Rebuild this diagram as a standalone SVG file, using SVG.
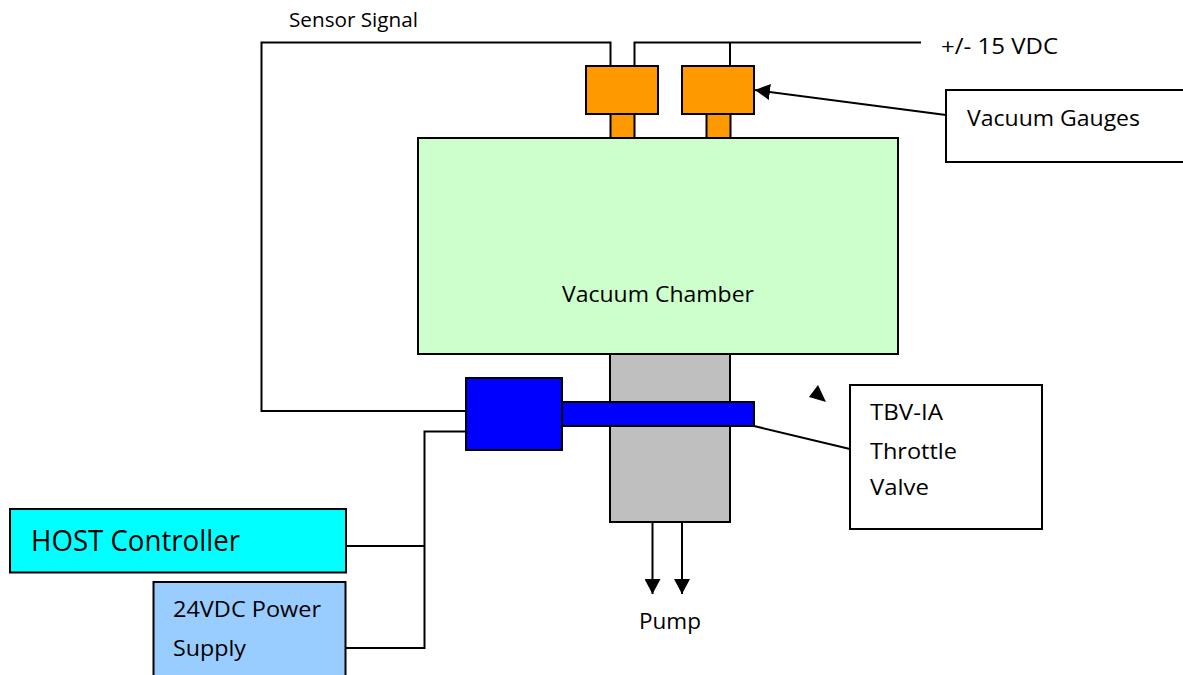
<svg xmlns="http://www.w3.org/2000/svg" width="1183" height="675" viewBox="0 0 1183 675">
<style>
.b{stroke:#000;stroke-width:2}
.w{fill:none;stroke:#000;stroke-width:2}
text{font-family:"Open Sans","Noto Sans","Liberation Sans",sans-serif;fill:#000;font-size:22.500px}
</style>
<defs>
<marker id="a" markerUnits="userSpaceOnUse" markerWidth="16" markerHeight="16" refX="15" refY="8" orient="auto"><path d="M0 0L15 8L0 16Z" fill="#000"/></marker>
</defs>
<rect width="1183" height="675" fill="#fff"/>
<g id="connectors">
<path class="w" d="M466 411H261.500V42.500H610.500V66"/>
<path class="w" d="M634.500 66V42.500H921"/>
<path class="w" d="M730 42.500V66"/>
<path class="w" d="M466 431.500H424.500V648H346"/>
<path class="w" d="M346 546H424.500"/>
<path class="w" d="M754 426L850 449"/>
<path class="w" d="M946 115L755 90" marker-end="url(#a)"/>
<path class="w" d="M652.500 522V594" marker-end="url(#a)"/>
<path class="w" d="M682 522V594" marker-end="url(#a)"/>
<path d="M809 397L818 385L826 402Z" fill="#000"/>
</g>
<g id="gauge-stem-1"><rect class="b" x="610.500" y="114" width="24" height="24" fill="#f90"/></g>
<g id="gauge-stem-2"><rect class="b" x="706.500" y="114" width="24" height="24" fill="#f90"/></g>
<g id="gauge-1"><rect class="b" x="586" y="66" width="72" height="48" fill="#f90"/></g>
<g id="gauge-2"><rect class="b" x="682" y="66" width="72" height="48" fill="#f90"/></g>
<g id="vacuum-chamber"><rect class="b" x="418" y="138" width="480" height="216" fill="#cfc"/><text x="562" y="302" textLength="192" lengthAdjust="spacingAndGlyphs">Vacuum Chamber</text></g>
<g id="pipe"><rect class="b" x="610" y="354" width="120" height="168" fill="#bfbfbf"/></g>
<g id="valve-body"><rect class="b" x="466" y="378" width="96" height="72" fill="#00f"/></g>
<g id="valve-shaft"><rect class="b" x="562" y="402" width="192" height="24" fill="#00f"/></g>
<g id="vacuum-gauges"><rect class="b" x="946" y="90" width="240" height="72" fill="#fff"/><text x="967" y="126" textLength="173" lengthAdjust="spacingAndGlyphs">Vacuum Gauges</text></g>
<g id="throttle-valve"><rect class="b" x="850" y="385" width="192" height="144" fill="#fff"/><text x="870" y="420" textLength="73" lengthAdjust="spacingAndGlyphs">TBV-IA</text><text x="870" y="459" textLength="87" lengthAdjust="spacingAndGlyphs">Throttle</text><text x="870" y="495" textLength="59" lengthAdjust="spacingAndGlyphs">Valve</text></g>
<g id="host-controller"><rect class="b" x="10" y="509" width="336" height="63.500" fill="#0ff"/><text x="31" y="551" style="font-size:29px" textLength="209" lengthAdjust="spacingAndGlyphs">HOST Controller</text></g>
<g id="power-supply"><rect class="b" x="153.500" y="582" width="192" height="96" fill="#9cf"/><text x="173" y="617" textLength="148" lengthAdjust="spacingAndGlyphs">24VDC Power</text><text x="173" y="656" textLength="73" lengthAdjust="spacingAndGlyphs">Supply</text></g>
<g id="labels"><text x="289" y="27" style="font-size:19.500px" textLength="129" lengthAdjust="spacingAndGlyphs">Sensor Signal</text><text x="941" y="54" textLength="117" lengthAdjust="spacingAndGlyphs">+/- 15 VDC</text><text x="639" y="629" textLength="62" lengthAdjust="spacingAndGlyphs">Pump</text></g>
</svg>
